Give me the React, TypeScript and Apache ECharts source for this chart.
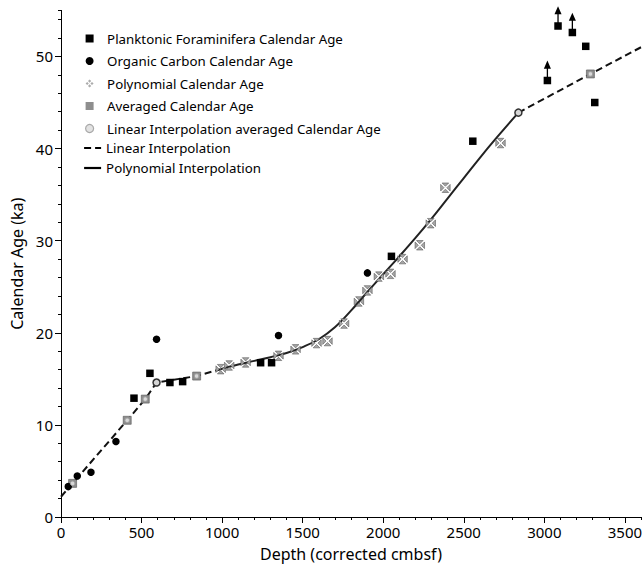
import React, { useEffect, useRef } from "react";
import * as echarts from "echarts";

// ---- data (depth in corrected cmbsf, calendar age in ka) ----
const planktonicDepth = [453, 552, 676, 755, 1239, 1307, 2051, 2556, 3019, 3085, 3174, 3257, 3313];
const planktonicAge = [12.9, 15.6, 14.6, 14.7, 16.75, 16.75, 28.3, 40.8, 47.4, 53.3, 52.6, 51.1, 45.0];
const planktonicMinimum = [false, false, false, false, false, false, false, false, true, true, true, false, false];

const organicDepth = [45, 101, 186, 341, 593, 1350, 1902];
const organicAge = [3.3, 4.45, 4.85, 8.2, 19.3, 19.7, 26.5];

const polyDepth = [991, 1044, 1146, 1350, 1456, 1586, 1654, 1757, 1849, 1902, 1973, 2045, 2120, 2227, 2295, 2386, 2728];
const polyAge = [16.05, 16.45, 16.78, 17.5, 18.2, 18.88, 19.1, 21.0, 23.4, 24.6, 26.1, 26.4, 28.0, 29.5, 31.9, 35.75, 40.6];

const avgDepth = [72, 411, 523, 842, 3286];
const avgAge = [3.65, 10.5, 12.8, 15.3, 48.1];

const linAvgDepth = [72, 411, 523, 593, 842, 2839, 3286];
const linAvgAge = [3.65, 10.5, 12.8, 14.6, 15.3, 43.9, 48.1];
const linAvgRinged = [false, false, false, true, false, true, false];

const linearADepth = [0, 72, 411, 523, 593, 842, 991];
const linearAAge = [2.2, 3.65, 10.5, 12.8, 14.6, 15.3, 16.05];
const linearBDepth = [2839, 3286, 3600];
const linearBAge = [43.9, 48.1, 51.0];

const polyCurveDepth = [991, 1100, 1200, 1300, 1400, 1500, 1600, 1700, 1800, 1900, 2000, 2100, 2200, 2300, 2400, 2500, 2600, 2700, 2839];
const polyCurveAge = [16.05, 16.55, 16.95, 17.35, 17.8, 18.45, 19.3, 20.6, 22.4, 24.4, 26.35, 28.3, 30.3, 32.4, 34.6, 36.8, 39.0, 41.1, 43.9];

const xMajorTicks = [0, 500, 1000, 1500, 2000, 2500, 3000, 3500];
const yMajorTicks = [0, 10, 20, 30, 40, 50];

const NAMES = {
  plank: "Planktonic Foraminifera Calendar Age",
  org: "Organic Carbon Calendar Age",
  poly: "Polynomial Calendar Age",
  avg: "Averaged Calendar Age",
  linAvg: "Linear Interpolation averaged Calendar Age",
  lin: "Linear Interpolation",
  polyLine: "Polynomial Interpolation",
};

const FONT = "'Noto Sans', sans-serif";

// square split by a white X (polynomial marker as it appears on the curve)
const POLY_SYMBOL =
  "path://M1.5,0 L8.5,0 L5,3.5 Z M10,1.5 L10,8.5 L6.5,5 Z M1.5,10 L8.5,10 L5,6.5 Z M0,1.5 L0,8.5 L3.5,5 Z";
// four small diamonds (legend glyph)
const POLY_LEGEND =
  "path://M5,0 L7,2 L5,4 L3,2 Z M8,3 L10,5 L8,7 L6,5 Z M5,6 L7,8 L5,10 L3,8 Z M2,3 L4,5 L2,7 L0,5 Z";
const SQUARE = "path://M0,0 L10,0 L10,10 L0,10 Z";
const ARROW_SQUARE =
  "path://M3.5,0 L6.8,7.5 L0.2,7.5 Z M2.9,7 L4.1,7 L4.1,15 L2.9,15 Z M0,15 L7,15 L7,22 L0,22 Z";

const zip = (a: number[], b: number[]) => a.map((v, i) => [v, b[i]]);

export default function App() {
  const ref = useRef<HTMLDivElement>(null);

  useEffect(() => {
    if (!ref.current) return;
    const chart = echarts.init(ref.current, null, { renderer: "svg" });

    const plankData = planktonicDepth.map((d, i) =>
      planktonicMinimum[i]
        ? { value: [d, planktonicAge[i]], symbol: ARROW_SQUARE, symbolSize: [7.5, 23.6], symbolOffset: [0, -8] }
        : { value: [d, planktonicAge[i]] }
    );
    const linAvgData = linAvgDepth.map((d, i) =>
      linAvgRinged[i]
        ? { value: [d, linAvgAge[i]], symbolSize: 7, itemStyle: { color: "#d6d6d6", borderColor: "#333", borderWidth: 1.5 } }
        : { value: [d, linAvgAge[i]] }
    );

    const axisCommon = {
      axisLine: { show: true, onZero: false, lineStyle: { color: "#000", width: 1 } },
      splitLine: { show: false },
    };

    const hiddenSymbol = { color: "transparent", borderColor: "transparent", borderWidth: 0, opacity: 0 };
    const legendText = { fontFamily: FONT, fontSize: 13.3, color: "#000" };

    chart.setOption({
      animation: false,
      backgroundColor: "#fff",
      textStyle: { fontFamily: FONT },
      grid: { left: 61, right: 3, top: 10.4, bottom: 48, containLabel: false, outerBoundsMode: "none" },
      legend: [
        {
          orient: "vertical",
          left: 80,
          top: 27,
          itemWidth: 17,
          itemHeight: 8,
          itemGap: 9.5,
          symbolKeepAspect: true,
          textStyle: { ...legendText, padding: [0, 0, 0, 4] },
          data: [
            { name: NAMES.plank, icon: SQUARE },
            { name: NAMES.org, icon: "circle" },
            { name: NAMES.poly, icon: POLY_LEGEND, itemStyle: { color: "#ababab", borderWidth: 0 } },
            { name: NAMES.avg, icon: SQUARE, itemStyle: { color: "#8e8e8e", borderWidth: 0 } },
            { name: NAMES.linAvg, icon: "circle", itemStyle: { color: "#e2e2e2", borderColor: "#a8a8a8", borderWidth: 1.2 } },
          ],
        },
        {
          orient: "vertical",
          left: 78,
          top: 136.5,
          itemWidth: 17,
          itemHeight: 8,
          itemGap: 7,
          textStyle: legendText,
          data: [
            { name: NAMES.lin, itemStyle: hiddenSymbol, lineStyle: { width: 2.2, color: "#000", type: [7, 4] } },
            { name: NAMES.polyLine, itemStyle: hiddenSymbol, lineStyle: { width: 2.2, color: "#000" } },
          ],
        },
      ],
      xAxis: [
        {
          ...axisCommon,
          type: "value",
          position: "bottom",
          min: 0,
          max: 3600,
          interval: 500,
          name: "Depth (corrected cmbsf)",
          nameLocation: "middle",
          nameGap: 29,
          nameTextStyle: { fontFamily: FONT, fontSize: 16, color: "#000" },
          axisTick: { show: true, length: 6, customValues: xMajorTicks, lineStyle: { color: "#000" } },
          axisLabel: {
            show: true,
            customValues: xMajorTicks,
            formatter: (v: number) => String(v),
            fontFamily: FONT,
            fontSize: 15,
            color: "#000",
            margin: 7,
          },
        },
        {
          ...axisCommon,
          type: "value",
          position: "bottom",
          min: 0,
          max: 3600,
          interval: 100,
          axisTick: { show: true, length: 3, lineStyle: { color: "#000" } },
          axisLabel: { show: false },
        },
      ],
      yAxis: [
        {
          ...axisCommon,
          type: "value",
          position: "left",
          min: 0,
          max: 55,
          interval: 10,
          name: "Calendar Age (ka)",
          nameLocation: "middle",
          nameGap: 35,
          nameTextStyle: { fontFamily: FONT, fontSize: 16, color: "#000" },
          axisTick: { show: true, length: 6, customValues: yMajorTicks, lineStyle: { color: "#000" } },
          axisLabel: {
            show: true,
            customValues: yMajorTicks,
            formatter: (v: number) => String(v),
            fontFamily: FONT,
            fontSize: 15,
            color: "#000",
            margin: 8,
          },
        },
        {
          ...axisCommon,
          type: "value",
          position: "left",
          min: 0,
          max: 55,
          interval: 2,
          axisTick: { show: true, length: 3, lineStyle: { color: "#000" } },
          axisLabel: { show: false },
        },
      ],
      series: [
        {
          name: NAMES.lin,
          type: "line",
          symbol: "none",
          showSymbol: false,
          z: 1,
          lineStyle: { color: "#111", width: 2, type: [7, 4] },
          itemStyle: { color: "#111" },
          data: zip(linearADepth, linearAAge),
        },
        {
          name: NAMES.lin,
          type: "line",
          symbol: "none",
          showSymbol: false,
          z: 1,
          lineStyle: { color: "#111", width: 2, type: [7, 4] },
          itemStyle: { color: "#111" },
          data: zip(linearBDepth, linearBAge),
        },
        {
          name: NAMES.polyLine,
          type: "line",
          symbol: "none",
          showSymbol: false,
          smooth: 0.4,
          z: 1,
          lineStyle: { color: "#222", width: 2 },
          itemStyle: { color: "#222" },
          data: zip(polyCurveDepth, polyCurveAge),
        },
        {
          name: NAMES.plank,
          type: "scatter",
          symbol: "rect",
          symbolSize: 7.5,
          z: 3,
          itemStyle: { color: "#000", opacity: 1 },
          data: plankData,
        },
        {
          name: NAMES.org,
          type: "scatter",
          symbol: "circle",
          symbolSize: 7.5,
          z: 3,
          itemStyle: { color: "#000", opacity: 1 },
          data: zip(organicDepth, organicAge),
        },
        {
          name: NAMES.avg,
          type: "scatter",
          symbol: "rect",
          symbolSize: 8,
          z: 2,
          itemStyle: { color: "#8e8e8e", borderColor: "#555", borderWidth: 0.6, opacity: 1 },
          data: zip(avgDepth, avgAge),
        },
        {
          name: NAMES.poly,
          type: "scatter",
          symbol: POLY_SYMBOL,
          symbolSize: 9.5,
          z: 2,
          itemStyle: { color: "#a6a6a6", borderColor: "#444", borderWidth: 0.5, opacity: 1 },
          data: zip(polyDepth, polyAge),
        },
        {
          name: NAMES.linAvg,
          type: "scatter",
          symbol: "circle",
          symbolSize: 4.5,
          z: 4,
          itemStyle: { color: "#d8d8d8", borderColor: "#a0a0a0", borderWidth: 1, opacity: 1 },
          data: linAvgData,
        },
      ],
    });

    return () => chart.dispose();
  }, []);

  return (
    <div
      ref={ref}
      style={{ position: "absolute", left: 0, top: 0, width: 644, height: 565, background: "#fff" }}
    />
  );
}
